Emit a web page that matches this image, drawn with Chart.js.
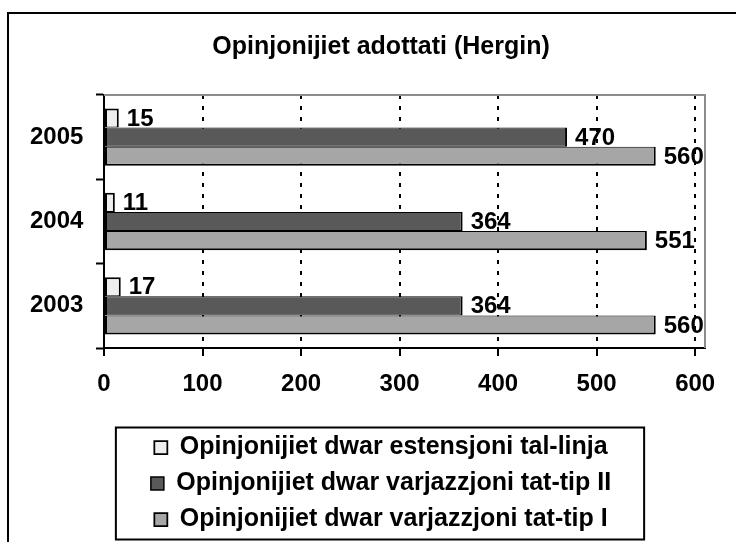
<!DOCTYPE html>
<html><head><meta charset="utf-8">
<script src="https://cdn.jsdelivr.net/npm/chart.js@4"></script>
<style>html,body{margin:0;padding:0;background:#fff;}#wrap{width:736px;height:542px;position:relative;}</style>
</head><body><div id="wrap"><canvas id="c" width="736" height="542"></canvas></div>
<script>
const categories = ['2005', '2004', '2003'];
const seriesNames = [
  'Opinjonijiet dwar estensjoni tal-linja',
  'Opinjonijiet dwar varjazzjoni tat-tip II',
  'Opinjonijiet dwar varjazzjoni tat-tip I'
];
const extensionValues = [15, 11, 17];
const typeIIValues = [470, 364, 364];
const typeIValues = [560, 551, 560];
const xTickValues = [0, 100, 200, 300, 400, 500, 600];
const titleText = 'Opinjonijiet adottati (Hergin)';

const FONT = '"Liberation Sans", Arial, sans-serif';

const valueLabels = {
  id: 'valueLabels',
  afterDatasetsDraw(chart) {
    const ctx = chart.ctx;
    ctx.save();
    ctx.font = 'bold 24px ' + FONT;
    ctx.fillStyle = '#000';
    ctx.textAlign = 'left';
    ctx.textBaseline = 'middle';
    chart.data.datasets.forEach((ds, i) => {
      const meta = chart.getDatasetMeta(i);
      meta.data.forEach((bar, j) => {
        ctx.fillText(String(ds.data[j]), bar.x + 8, bar.y + 1);
      });
    });
    ctx.restore();
  }
};

const frames = {
  id: 'frames',
  afterDraw(chart) {
    const ctx = chart.ctx;
    const ca = chart.chartArea;
    ctx.save();
    // outer chart frame
    ctx.strokeStyle = '#000';
    ctx.lineWidth = 2;
    ctx.strokeRect(8, 13, 800, 700);
    // plot area border (top/right)
    ctx.strokeStyle = '#8c8c8c';
    ctx.beginPath();
    ctx.moveTo(ca.left, ca.top);
    ctx.lineTo(ca.right, ca.top);
    ctx.lineTo(ca.right, ca.bottom);
    ctx.stroke();
    // legend frame
    const lg = chart.legend;
    const hb = lg.legendHitBoxes;
    if (hb && hb.length) {
      let minL = Infinity, maxR = -Infinity;
      hb.forEach(h => { minL = Math.min(minL, h.left); maxR = Math.max(maxR, h.left + h.width); });
      const top = hb[0].top + hb[0].height / 2 - 20;
      const bottom = hb[hb.length - 1].top + hb[hb.length - 1].height / 2 + 20;
      ctx.strokeStyle = '#000';
      ctx.lineWidth = 2;
      ctx.strokeRect(minL - 35, top, (maxR + 33) - (minL - 35), bottom - top);
    }
    ctx.restore();
  }
};

const commonDs = { borderColor: '#000', borderSkipped: false, barPercentage: 1.0, categoryPercentage: 0.68 };

new Chart(document.getElementById('c'), {
  type: 'bar',
  data: {
    labels: categories,
    datasets: [
      Object.assign({ label: seriesNames[0], data: extensionValues, backgroundColor: '#eeeeee',
        borderWidth: { top: 2, bottom: 1, left: 2, right: 2 } }, commonDs),
      Object.assign({ label: seriesNames[1], data: typeIIValues, backgroundColor: '#595959',
        borderWidth: { top: 1, bottom: 1, left: 2, right: 2 } }, commonDs),
      Object.assign({ label: seriesNames[2], data: typeIValues, backgroundColor: '#a6a6a6',
        borderWidth: { top: 1, bottom: 2, left: 2, right: 2 } }, commonDs)
    ]
  },
  options: {
    indexAxis: 'y',
    responsive: false,
    animation: false,
    devicePixelRatio: 1,
    layout: { padding: { top: 12, left: 57, right: 31, bottom: 0 } },
    plugins: {
      title: {
        display: true, text: titleText, color: '#000',
        font: { family: FONT, size: 25, weight: 'bold' },
        padding: { top: 20, bottom: 33 }
      },
      legend: {
        display: true, position: 'bottom',
        labels: {
          color: '#000', font: { family: FONT, size: 25, weight: 'bold' },
          boxWidth: 13, boxHeight: 13, padding: 11
        }
      },
      tooltip: { enabled: false }
    },
    scales: {
      x: {
        type: 'linear', min: 0, max: 610,
        afterBuildTicks: s => { s.ticks = xTickValues.map(v => ({ value: v })); },
        afterFit: s => { s.height = 76; },
        ticks: { color: '#000', font: { family: FONT, size: 24, weight: 'bold' }, padding: 14, maxRotation: 0 },
        grid: { color: '#000', lineWidth: 2, drawTicks: true, tickLength: 8, tickColor: '#000', tickWidth: 2 },
        border: { display: true, color: '#000', width: 2, dash: [4, 7] }
      },
      y: {
        type: 'category',
        afterFit: s => { s.width = 47; },
        ticks: { color: '#000', font: { family: FONT, size: 24, weight: 'bold' },
          mirror: true, crossAlign: 'far', padding: -74 },
        grid: { drawOnChartArea: false, drawTicks: true, tickLength: 8, tickColor: '#000', tickWidth: 2, offset: true },
        border: { display: true, color: '#000', width: 2 }
      }
    }
  },
  plugins: [valueLabels, frames]
});
</script>
</body></html>
